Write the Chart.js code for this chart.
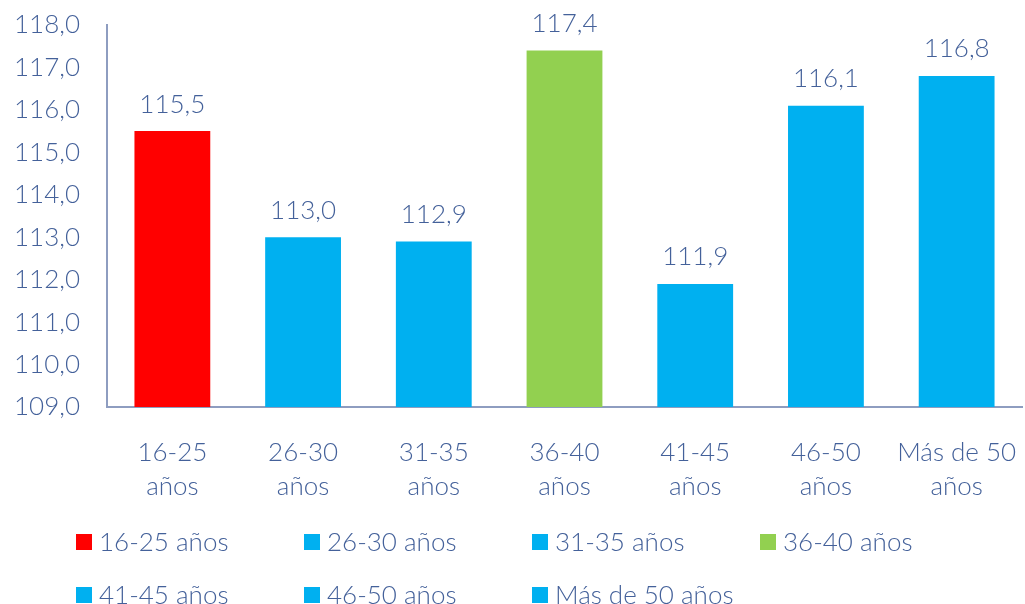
<!DOCTYPE html>
<html>
<head>
<meta charset="utf-8">
<script src="https://cdn.jsdelivr.net/npm/chart.js@4/dist/chart.umd.min.js"></script>
<style>
html,body{margin:0;padding:0;background:#fff;}
canvas{display:block;}
</style>
</head>
<body>
<canvas id="c" width="1025" height="604"></canvas>
<script>
const categories = [["16-25","años"],["26-30","años"],["31-35","años"],["36-40","años"],["41-45","años"],["46-50","años"],["Más de 50","años"]];
const legendLabels = ["16-25 años","26-30 años","31-35 años","36-40 años","41-45 años","46-50 años","Más de 50 años"];
const values = [115.5, 113.0, 112.9, 117.4, 111.9, 116.1, 116.8];
const barColors = ["#ff0000","#00b0f0","#00b0f0","#92d050","#00b0f0","#00b0f0","#00b0f0"];
const yMin = 109, yMax = 118, yStep = 1;

const TEXT = "#44619a";
const AXIS = "#8e9dc0";
const FONT = "Lato";
const FS = 26;

function fmt(v){ return v.toFixed(1).replace('.', ','); }

const valueLabels = {
  id: 'valueLabels',
  afterDatasetsDraw(chart){
    const ctx = chart.ctx;
    const meta = chart.getDatasetMeta(0);
    ctx.save();
    ctx.font = `300 ${FS}px ${FONT}`;
    ctx.fillStyle = TEXT;
    ctx.textAlign = 'center';
    ctx.textBaseline = 'middle';
    meta.data.forEach((bar, i) => {
      ctx.fillText(fmt(values[i]), bar.x, bar.y - 27);
    });
    ctx.restore();
  }
};

const gridLegend = {
  id: 'gridLegend',
  afterDraw(chart){
    const ctx = chart.ctx;
    ctx.save();
    ctx.font = `300 ${FS}px ${FONT}`;
    ctx.textAlign = 'left';
    ctx.textBaseline = 'middle';
    const colX = [76, 304, 532, 760];
    const rowY = [542, 595];
    legendLabels.forEach((lab, i) => {
      const col = i % 4, row = Math.floor(i / 4);
      const x = colX[col], y = rowY[row];
      ctx.fillStyle = barColors[i];
      ctx.fillRect(x, y - 8, 16, 16);
      ctx.fillStyle = TEXT;
      ctx.fillText(lab, x + 23, y + 1);
    });
    ctx.restore();
  }
};

new Chart(document.getElementById('c'), {
  type: 'bar',
  data: {
    labels: categories,
    datasets: [{
      data: values,
      backgroundColor: barColors,
      borderWidth: 0,
      barPercentage: 0.58,
      categoryPercentage: 1.0
    }]
  },
  options: {
    responsive: false,
    animation: false,
    devicePixelRatio: 1,
    layout: { padding: { top: 25, right: 3, bottom: 100, left: 0 } },
    plugins: { legend: { display: false }, tooltip: { enabled: false } },
    scales: {
      x: {
        grid: { display: false, drawTicks: false },
        border: { display: true, color: AXIS, width: 2 },
        ticks: { color: TEXT, font: { family: FONT, size: FS, weight: 300, lineHeight: 1.31 }, padding: 29, maxRotation: 0, autoSkip: false },
        afterFit(s){ s.height = 97; s.paddingLeft = 0; s.paddingRight = 0; }
      },
      y: {
        min: yMin, max: yMax,
        grid: { display: false, drawTicks: false },
        border: { display: true, color: AXIS, width: 2 },
        ticks: { stepSize: yStep, color: TEXT, font: { family: FONT, size: FS, weight: 300 }, padding: 27, callback: v => fmt(v) },
        afterFit(s){ s.width = 107; s.paddingTop = 0; s.paddingBottom = 0; }
      }
    }
  },
  plugins: [valueLabels, gridLegend]
});
</script>
</body>
</html>
